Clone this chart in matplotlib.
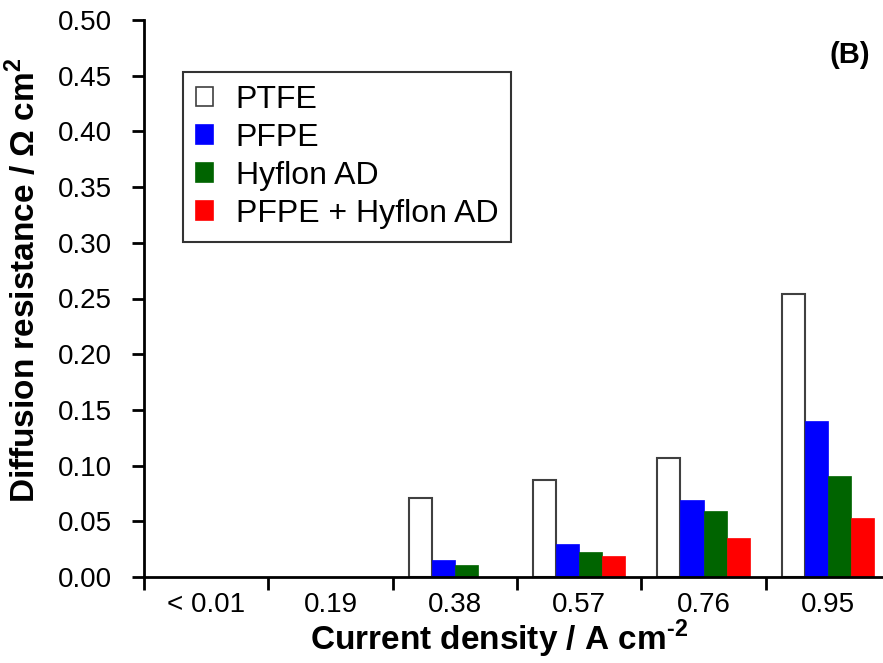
import matplotlib
matplotlib.use("Agg")
import matplotlib.pyplot as plt
import numpy as np
from matplotlib.patches import Patch

# ---- Data ----
categories = ["< 0.01", "0.19", "0.38", "0.57", "0.76", "0.95"]
series_names = ["PTFE", "PFPE", "Hyflon AD", "PFPE + Hyflon AD"]
ptfe = [0.0, 0.0, 0.071, 0.087, 0.107, 0.254]
pfpe = [0.0, 0.0, 0.015, 0.030, 0.069, 0.140]
hyflon = [0.0, 0.0, 0.011, 0.022, 0.059, 0.091]
pfpe_hyflon = [0.0, 0.0, 0.0, 0.019, 0.035, 0.053]
y_ticks = [0.00, 0.05, 0.10, 0.15, 0.20, 0.25, 0.30, 0.35, 0.40, 0.45, 0.50]

# ---- Style ----
plt.rcParams["font.family"] = ["Liberation Sans", "DejaVu Sans"]
plt.rcParams["mathtext.fontset"] = "custom"
plt.rcParams["mathtext.rm"] = "Liberation Sans:bold"
plt.rcParams["mathtext.bf"] = "Liberation Sans:bold"

faces = ["white", "#0000ff", "#006400", "#ff0000"]
edges = ["#404040", "#0000ff", "#006400", "#ff0000"]
all_series = [ptfe, pfpe, hyflon, pfpe_hyflon]

W, H = 883, 663
fig = plt.figure(figsize=(W / 100, H / 100), dpi=100)
ax = fig.add_axes([144 / W, 86 / H, 746 / W, 557 / H])

x = np.arange(len(categories)) + 0.5
width = 0.185
for i, (vals, name) in enumerate(zip(all_series, series_names)):
    offs = (i - 1.5) * width
    vals = np.array(vals)
    keep = vals > 0
    ax.bar(x[keep] + offs, vals[keep], width, color=faces[i], edgecolor=edges[i],
           linewidth=1.5 if i == 0 else 0.5, label=name)

ax.set_xlim(0, len(categories))
ax.set_ylim(0, 0.5)
ax.set_yticks(y_ticks)
ax.set_yticklabels([f"{t:.2f}" for t in y_ticks], fontsize=20)

# major ticks at group boundaries, labels at group centres
ax.set_xticks(np.arange(len(categories)))
ax.set_xticklabels([])
ax.set_xticks(x, minor=True)
ax.set_xticklabels(categories, minor=True, fontsize=20)
ax.tick_params(axis="x", which="minor", length=0, pad=11)

ax.spines["top"].set_visible(False)
ax.spines["right"].set_visible(False)
ax.spines["left"].set_linewidth(2)
ax.spines["bottom"].set_linewidth(2)
ax.tick_params(axis="both", which="major", direction="out", length=9, width=2)
ax.tick_params(axis="y", pad=14)

fig.text(35 / W, 1 - 280 / H, "Diffusion resistance / \u03a9 cm$^{2}$",
         fontsize=24, fontweight="bold", rotation=90, rotation_mode="anchor",
         ha="center", va="baseline")
fig.text(499 / W, 1 - 650 / H, "Current density / A cm$^{\\text{-}2}$",
         fontsize=24, fontweight="bold", ha="center", va="baseline")

handles = [Patch(facecolor=faces[i], edgecolor=edges[i], linewidth=1.2)
           for i in range(4)]
leg = ax.legend(handles, series_names, loc="upper left",
                bbox_to_anchor=((183 - 144) / 746, (577 - 72) / 557),
                fontsize=23, frameon=True, fancybox=False, edgecolor="black",
                handlelength=0.55, handleheight=0.55, handletextpad=0.7,
                labelspacing=0.25, borderpad=0.4, borderaxespad=0)
leg.get_frame().set_linewidth(1.5)

fig.text(870 / W, 1 - 55 / H, "(B)", fontsize=21, fontweight="bold",
         ha="right", va="center")

fig.savefig("out.png", dpi=100)
